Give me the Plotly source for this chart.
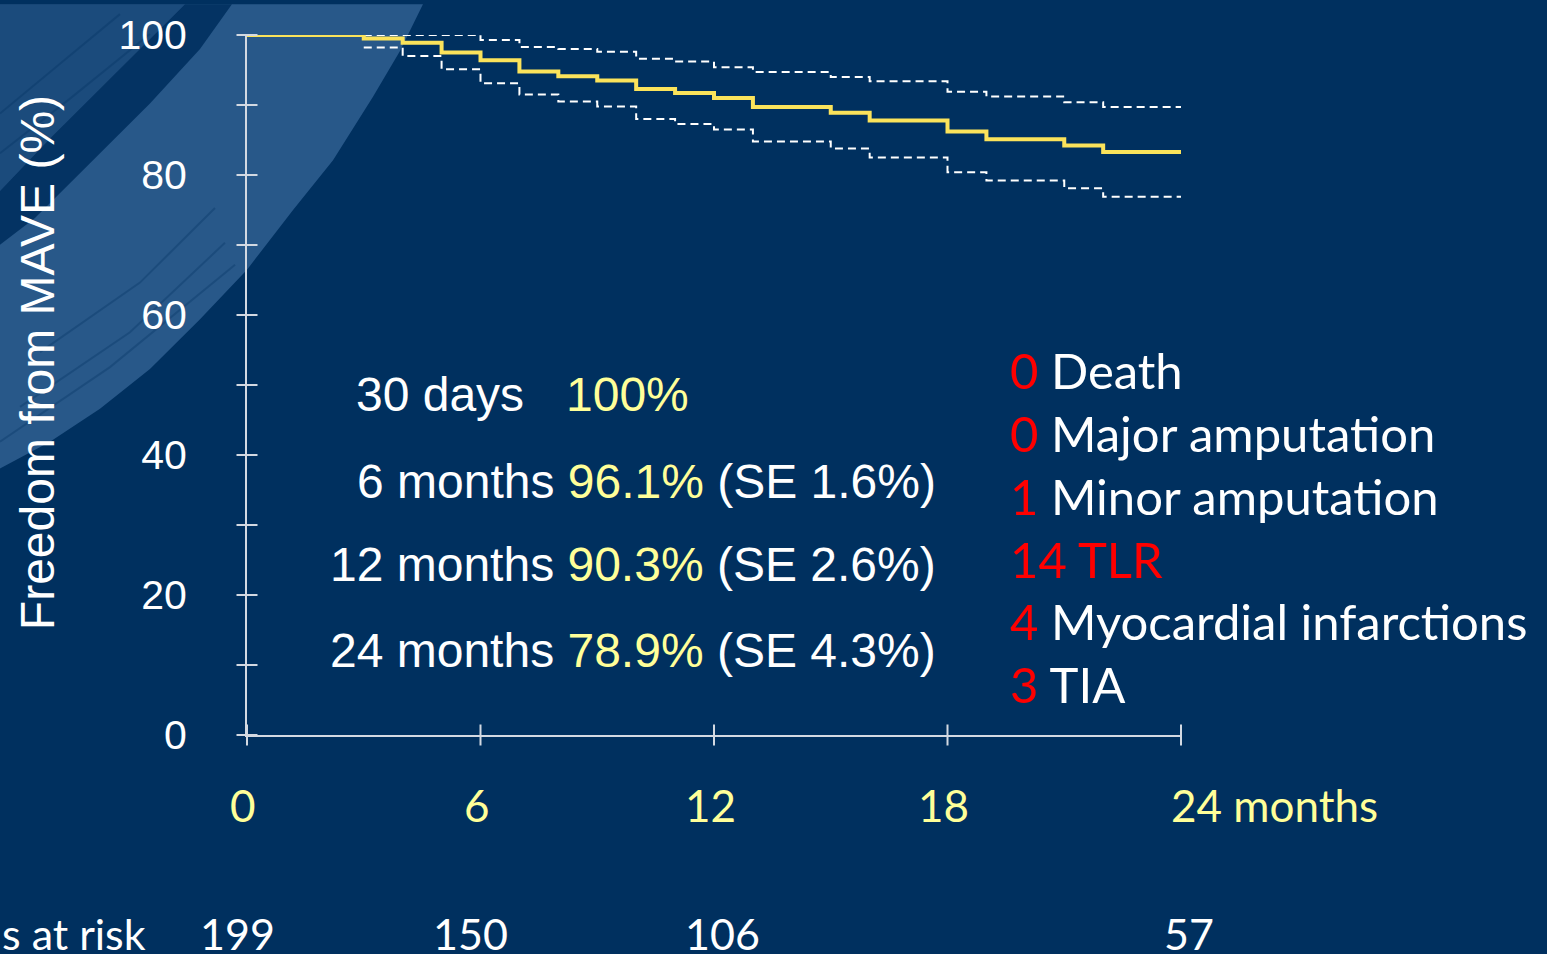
"""Kaplan-Meier curve: freedom from MAVE over 24 months, with 95% CI bands."""
import plotly.graph_objects as go

# ---- data ----
MONTHS = [0, 3, 4, 5, 6, 7, 8, 9, 10, 11, 12, 13, 15, 16, 18, 19, 21, 22, 24]
SURVIVAL = [100, 99.5, 98.9, 97.5, 96.4, 94.8, 94.1, 93.5, 92.3, 91.7, 91.0,
            89.7, 88.9, 87.8, 86.2, 85.1, 84.2, 83.3, 83.3]

CI_MONTHS = [3, 4, 5, 6, 7, 8, 9, 10, 11, 12, 13, 15, 16, 18, 19, 21, 22, 24]
CI_UPPER = [100, 100, 100, 99.3, 98.3, 98.0, 97.6, 96.6, 96.2, 95.4, 94.7,
            94.0, 93.4, 91.9, 91.2, 90.4, 89.7, 89.7]
CI_LOWER = [98.2, 97.0, 95.1, 93.1, 91.5, 90.5, 89.8, 88.0, 87.3, 86.5, 84.8,
            83.8, 82.5, 80.4, 79.2, 78.1, 76.9, 76.9]

X_TICKS = [0, 6, 12, 18, 24]
X_TICK_TEXT = ["0", "6", "12", "18", "24 months"]
Y_TICKS = [0, 20, 40, 60, 80, 100]
Y_MINOR = [0, 10, 20, 30, 40, 50, 60, 70, 80, 90, 100]

RISK_MONTHS = [0, 6, 12, 24]
RISK_COUNTS = [199, 150, 106, 57]

STAT_LABELS = ["6 months", "12 months", "24 months"]
STAT_VALUES = ["96.1%", "90.3%", "78.9%"]
STAT_SE = ["(SE 1.6%)", "(SE 2.6%)", "(SE 4.3%)"]

EVENT_COUNTS = ["0", "0", "1", "14", "4", "3"]
EVENT_NAMES = ["Death", "Major amputation", "Minor amputation", "TLR",
               "Myocardial infarctions", "TIA"]

# ---- styling ----
NAVY = "#00305f"
BRUSH = "#285889"
CURVE = "#fbe35b"
PALE_YELLOW = "#ffff99"
AXIS = "#d3d9e2"
RED = "#ff0000"
ARIAL = "Liberation Sans, Arial, sans-serif"
CALIBRI = "Lato, Open Sans, sans-serif"

W, H = 1547, 954
PLOT_L, PLOT_R, PLOT_T, PLOT_B = 247, 1181, 31, 735


def px_x(px):
    return (px - PLOT_L) / (PLOT_R - PLOT_L)


def px_y(py):
    return (PLOT_B - py) / (PLOT_B - PLOT_T)


def path(points, close=True):
    d = "M " + " L ".join(f"{px_x(x):.4f},{px_y(y):.4f}" for x, y in points)
    return d + (" Z" if close else "")


fig = go.Figure()

# decorative brush stroke in the top-left corner
brush_outline = [(0, 0), (423, 0), (400, 47), (373, 93), (333, 157), (293, 207),
                 (247, 267), (200, 317), (150, 367), (100, 407), (50, 440), (0, 467)]
fig.add_shape(type="path", path=path(brush_outline), xref="paper", yref="paper",
              fillcolor=BRUSH, line_width=0, layer="below")
dark_streak = [(185, 0), (232, 0), (200, 45), (150, 100), (90, 160), (35, 215),
               (0, 242), (0, 188), (50, 135), (110, 75)]
fig.add_shape(type="path", path=path(dark_streak), xref="paper", yref="paper",
              fillcolor=NAVY, opacity=0.9, line_width=0, layer="below")
corner = [(0, 0), (185, 0), (110, 75), (50, 135), (0, 188)]
fig.add_shape(type="path", path=path(corner), xref="paper", yref="paper",
              fillcolor=NAVY, opacity=0.3, line_width=0, layer="below")
for pts in [[(0, 440), (110, 365), (235, 262)],
            [(20, 405), (130, 330), (225, 240)],
            [(40, 350), (140, 280), (215, 205)],
            [(0, 150), (70, 95), (150, 30)],
            [(0, 110), (60, 60), (120, 10)]]:
    fig.add_shape(type="path", path=path(pts, close=False), xref="paper", yref="paper",
                  line=dict(color=NAVY, width=2), opacity=0.3, layer="below")

# confidence limits
for ci in (CI_UPPER, CI_LOWER):
    fig.add_trace(go.Scatter(
        x=CI_MONTHS, y=ci, mode="lines", line_shape="hv",
        line=dict(color="white", width=2, dash="8px,5px"),
        cliponaxis=False, hoverinfo="skip", showlegend=False,
    ))

# KM estimate
fig.add_trace(go.Scatter(
    x=MONTHS, y=SURVIVAL, mode="lines", line_shape="hv",
    line=dict(color=CURVE, width=4), cliponaxis=False, showlegend=False,
    hovertemplate="%{x} months: %{y:.1f}%<extra></extra>",
))

# ticks that cross the axis lines
fig.add_trace(go.Scatter(
    x=[0] * len(Y_MINOR), y=Y_MINOR, mode="markers", cliponaxis=False,
    marker=dict(symbol="line-ew", size=15, line=dict(color=AXIS, width=2)),
    hoverinfo="skip", showlegend=False,
))
fig.add_trace(go.Scatter(
    x=X_TICKS, y=[0] * len(X_TICKS), mode="markers", cliponaxis=False,
    marker=dict(symbol="line-ns", size=15, line=dict(color=AXIS, width=2)),
    hoverinfo="skip", showlegend=False,
))


def note(x, y, text, size, color="white", family=ARIAL, xanchor="left", xref="paper", **kw):
    return dict(x=x, y=y, xref=xref, yref="paper", text=text, xanchor=xanchor,
                yanchor="middle", showarrow=False,
                font=dict(family=family, size=size, color=color), **kw)


ann = []
# x tick labels
for m, t in zip(X_TICKS, X_TICK_TEXT):
    last = m == X_TICKS[-1]
    ann.append(note(m, px_y(805), t, 44, PALE_YELLOW, CALIBRI, xref="x",
                    xanchor="left" if last else "center", xshift=-12 if last else -4))

# number at risk
ann.append(note(px_x(0), px_y(935), "s at risk", 43, family=CALIBRI))
for m, n in zip(RISK_MONTHS, RISK_COUNTS):
    ann.append(note(m, px_y(935), str(n), 43, family=CALIBRI, xref="x",
                    xanchor="center", xshift=-10 if m < 12 else 8))

# y axis title
ann.append(note(px_x(37), px_y(361), "Freedom from MAVE (%)", 48,
                xanchor="center", textangle=-90))

# survival estimates
ann.append(note(px_x(354), px_y(393), "30 days", 48))
ann.append(note(px_x(564), px_y(393), "100%", 48, PALE_YELLOW))
for i, (lab, val, se) in enumerate(zip(STAT_LABELS, STAT_VALUES, STAT_SE)):
    ann.append(note(px_x(938), px_y([480, 564, 650][i]),
                    f"{lab} <span style='color:{PALE_YELLOW}'>{val}</span> {se}",
                    48, xanchor="right"))

# event counts
for i, (cnt, name) in enumerate(zip(EVENT_COUNTS, EVENT_NAMES)):
    name_color = RED if name == "TLR" else "white"
    ann.append(note(px_x(1008), px_y(368 + i * 63.2),
                    f"<span style='color:{RED}'>{cnt}</span> "
                    f"<span style='color:{name_color}'>{name}</span>",
                    49, family=CALIBRI))

fig.update_layout(
    width=W, height=H, autosize=False,
    paper_bgcolor=NAVY, plot_bgcolor="rgba(0,0,0,0)",
    margin=dict(l=PLOT_L, r=W - PLOT_R, t=PLOT_T, b=H - PLOT_B, pad=0),
    xaxis=dict(range=[0, 24], showgrid=False, zeroline=False, showline=True,
               linecolor=AXIS, linewidth=2, showticklabels=False, ticks=""),
    yaxis=dict(range=[0, 100], showgrid=False, zeroline=False, showline=True,
               linecolor=AXIS, linewidth=2, ticks="", tickvals=Y_TICKS,
               ticklabelstandoff=50,
               tickfont=dict(family=ARIAL, size=41, color="white")),
    annotations=ann,
    showlegend=False,
)

fig.write_html("out.html", config={"displayModeBar": False},
               post_script="document.body.style.margin='0';document.body.style.overflow='hidden';")
